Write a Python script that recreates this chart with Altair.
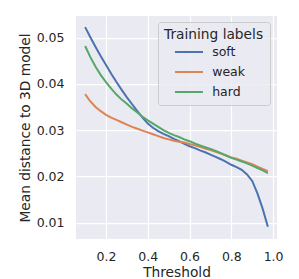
import altair as alt
import pandas as pd

thresholds = [0.1, 0.125, 0.15, 0.175, 0.2, 0.225, 0.25, 0.275, 0.3, 0.325,
              0.35, 0.375, 0.4, 0.425, 0.45, 0.475, 0.5, 0.525, 0.55, 0.575,
              0.6, 0.625, 0.65, 0.675, 0.7, 0.725, 0.75, 0.775, 0.8, 0.825,
              0.85, 0.875, 0.9, 0.925, 0.95, 0.975]

soft = [0.0523, 0.0501, 0.0480, 0.0460, 0.0441, 0.0422, 0.0404, 0.0387, 0.0371, 0.0356,
        0.0341, 0.0327, 0.0314, 0.0305, 0.0298, 0.0292, 0.0287, 0.0281, 0.0276, 0.0270,
        0.0265, 0.0261, 0.0256, 0.0252, 0.0247, 0.0242, 0.0237, 0.0231, 0.0225, 0.0220,
        0.0214, 0.0204, 0.0190, 0.0163, 0.0130, 0.0091]

weak = [0.0378, 0.0362, 0.0350, 0.0341, 0.0333, 0.0327, 0.0322, 0.0317, 0.0312, 0.0307,
        0.0303, 0.0299, 0.0295, 0.0291, 0.0287, 0.0283, 0.0280, 0.0277, 0.0275, 0.0273,
        0.0270, 0.0267, 0.0264, 0.0260, 0.0257, 0.0253, 0.0249, 0.0245, 0.0241, 0.0238,
        0.0234, 0.0230, 0.0226, 0.0221, 0.0216, 0.0211]

hard = [0.0482, 0.0458, 0.0437, 0.0419, 0.0404, 0.0390, 0.0377, 0.0366, 0.0357, 0.0347,
        0.0338, 0.0329, 0.0321, 0.0314, 0.0307, 0.0300, 0.0294, 0.0289, 0.0285, 0.0280,
        0.0276, 0.0271, 0.0267, 0.0263, 0.0259, 0.0255, 0.0250, 0.0245, 0.0240, 0.0236,
        0.0232, 0.0228, 0.0223, 0.0218, 0.0213, 0.0207]

labels = ["soft", "weak", "hard"]
colors = ["#4C72B0", "#DD8452", "#55A868"]
x_ticks = [0.2, 0.4, 0.6, 0.8, 1.0]
y_ticks = [0.01, 0.02, 0.03, 0.04, 0.05]

rows = []
for name, series in zip(labels, [soft, weak, hard]):
    for t, v in zip(thresholds, series):
        rows.append({"Threshold": t, "value": v, "label": name})
df = pd.DataFrame(rows)

font = "DejaVu Sans"
text_color = "#262626"

chart = alt.Chart(df).mark_line(strokeWidth=2).encode(
    x=alt.X("Threshold:Q",
            scale=alt.Scale(domain=[0.05625, 1.01875], nice=False, zero=False),
            axis=alt.Axis(values=x_ticks, format=".1f", title="Threshold")),
    y=alt.Y("value:Q",
            scale=alt.Scale(domain=[0.00643, 0.0547], nice=False, zero=False),
            axis=alt.Axis(values=y_ticks, format=".2f", title="Mean distance to 3D model")),
    color=alt.Color("label:N",
                    scale=alt.Scale(domain=labels, range=colors),
                    sort=labels,
                    legend=alt.Legend(title="Training labels", orient="none",
                                      legendX=82, legendY=6)),
).properties(
    width=201, height=223,
    autosize=alt.AutoSizeParams(type="none"),
    padding={"left": 68, "top": 8, "right": 14, "bottom": 40},
).configure_view(
    fill="#EAEAF2", stroke=None,
).configure_axis(
    domain=False, ticks=False, grid=True, gridColor="#FFFFFF", gridWidth=1.25,
    labelFont=font, labelFontSize=12.5, labelColor=text_color,
    titleFont=font, titleFontSize=13.75, titleColor=text_color, titleFontWeight="normal",
).configure_axisX(
    labelPadding=11, titlePadding=3,
).configure_axisY(
    labelPadding=12, titlePadding=4,
).configure_legend(
    labelFont=font, labelFontSize=12.5, labelColor=text_color,
    titleFont=font, titleFontSize=13.75, titleColor=text_color, titleFontWeight="normal",
    titlePadding=4, padding=6, rowPadding=7, symbolOffset=18.7,
    symbolType="M-2.8,0H2.8", symbolSize=100, symbolStrokeWidth=2,
    labelOffset=17,
    fillColor="rgba(234,234,242,0.8)", strokeColor="#CCCCCC", cornerRadius=3,
)

chart.save("out.html", embed_options={"renderer": "svg", "actions": False})
